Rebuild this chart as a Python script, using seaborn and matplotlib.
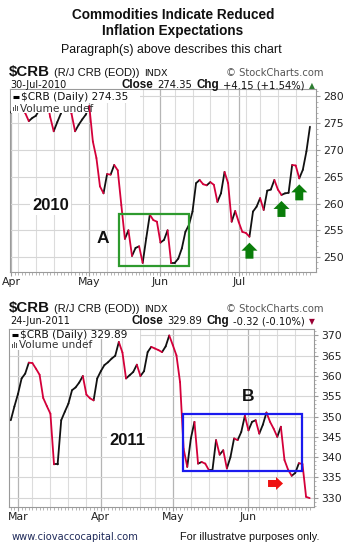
import numpy as np
import pandas as pd
import matplotlib
matplotlib.use("Agg")
import matplotlib.pyplot as plt
import seaborn as sns
from matplotlib.patches import Rectangle, Polygon
from matplotlib import transforms as mtransforms
from matplotlib.offsetbox import TextArea, HPacker, AnnotationBbox

# ---------------- data ----------------
start_2010, end_2010 = "2010-04-01", "2010-07-30"
holidays_2010 = ["2010-05-31", "2010-07-05"]
crb_2010 = [277.0, 278.6, 279.8, 278.8, 276.9, 275.4, 276.0, 276.4, 277.6, 279.2,
            279.8, 276.2, 273.5, 275.2, 276.8, 278.8, 279.6, 276.8, 273.5, 274.7,
            275.7, 276.6, 278.2, 271.6, 268.5, 263.2, 261.9, 265.5, 265.4, 267.2,
            266.2, 259.7, 253.4, 255.0, 250.2, 251.7, 252.0, 248.9, 253.5, 257.9,
            256.9, 256.6, 252.7, 253.2, 255.0, 248.9, 248.9, 249.7, 251.6, 254.7,
            256.0, 258.5, 263.8, 264.4, 263.6, 263.4, 264.0, 263.5, 260.3, 261.9,
            265.9, 263.8, 256.6, 258.6, 256.5, 254.7, 254.5, 253.8, 258.5, 259.4,
            261.0, 258.8, 262.4, 262.6, 264.4, 262.6, 261.6, 261.9, 262.0, 267.2,
            267.1, 264.7, 266.3, 269.7, 274.35]

start_2011, end_2011 = "2011-02-25", "2011-06-24"
holidays_2011 = ["2011-04-22", "2011-05-30"]
crb_2011 = [349.1, 352.5, 355.6, 359.4, 360.6, 363.3, 363.2, 361.8, 360.3, 354.6,
            352.6, 350.7, 338.2, 338.2, 349.1, 351.2, 353.2, 356.5, 357.2, 358.4,
            360.0, 355.4, 354.5, 354.0, 359.4, 361.2, 362.7, 363.4, 364.3, 365.0,
            368.4, 365.8, 359.4, 360.2, 361.0, 362.8, 360.0, 361.2, 365.9, 367.2,
            366.8, 366.4, 365.9, 367.3, 370.0, 367.6, 365.1, 358.5, 342.0, 337.6,
            344.6, 348.7, 338.4, 338.8, 338.4, 336.8, 336.8, 344.2, 340.6, 341.7,
            337.2, 340.0, 344.6, 344.2, 346.2, 350.2, 346.6, 348.7, 349.1, 345.8,
            348.0, 351.0, 348.7, 347.0, 345.0, 347.5, 339.3, 336.9, 335.4, 336.1,
            338.5, 338.3, 330.21, 329.89]

yticks_2010 = [250, 255, 260, 265, 270, 275, 280]
yticks_2011 = [330, 335, 340, 345, 350, 355, 360, 365, 370]

title_lines = ["Commodities Indicate Reduced", "Inflation Expectations"]
subtitle = "Paragraph(s) above describes this chart"
footer_left = "www.ciovaccocapital.com"
footer_right = "For illustratve purposes only."

# annotation anchors (trading-day index, value)
green_arrow_days = [67, 76, 81]
box_a = (30.3, 50.1, 248.4, 258.05)
box_b = (47.9, 81.0, 336.55, 350.7)
red_arrow_tip = (75.6, 333.5)

RED = "#d4003a"
BLACK = "#111111"

# ---------------- figure ----------------
sns.set_theme(style="white")
plt.rcParams["font.family"] = ["DejaVu Sans"]
W, H = 344, 551
fig = plt.figure(figsize=(W / 100, H / 100), dpi=100)
fig.patch.set_facecolor("white")


def trading_days(start, end, hol):
    d = pd.bdate_range(start, end)
    return d[~d.isin(pd.to_datetime(hol))]


def fy(py):
    return 1 - py / H


def draw_panel(ax, dates, values, xlim, ylim, yticks):
    n = len(values)
    xs = np.arange(n)
    rows = []
    for i in range(1, n):
        d = "up" if values[i] >= values[i - 1] else "down"
        rows.append((i, xs[i - 1], values[i - 1], d))
        rows.append((i, xs[i], values[i], d))
    df = pd.DataFrame(rows, columns=["seg", "x", "y", "dir"])
    sns.lineplot(data=df, x="x", y="y", hue="dir", units="seg", estimator=None,
                 palette={"up": BLACK, "down": RED}, legend=False, lw=1.3,
                 sort=False, ax=ax, zorder=3)
    for l in ax.lines:
        l.set_solid_capstyle("round")
        l.set_solid_joinstyle("round")
    # month & week gridlines
    months = [i for i in range(n) if (i == 0 and dates[0].day <= 3) or
              (i > 0 and dates[i].month != dates[i - 1].month)]
    weeks = [i for i in range(1, n) if dates[i].weekday() < dates[i - 1].weekday()
             and min(abs(i - m) for m in months) > 1]
    for w in weeks:
        ax.axvline(w, color="#dcdcdc", lw=0.8, zorder=1)
    for m in months:
        ax.axvline(m, color="#b5b5b5", lw=0.9, zorder=1)
    for t in yticks:
        ax.axhline(t, color="#d6d6d6", lw=0.8, zorder=1)
    ax.set_xticks(months)
    ax.set_xticklabels([dates[m].strftime("%b") for m in months])
    ax.set_xticks(xs, minor=True)
    ax.set_yticks(yticks)
    minor_y = np.arange(np.ceil(ylim[0]), np.floor(ylim[1]) + 1, 1.0)
    ax.set_yticks(minor_y, minor=True)
    ax.set_xlim(*xlim)
    ax.set_ylim(*ylim)
    ax.yaxis.tick_right()
    ax.tick_params(axis="x", which="major", length=3, width=0.8, color="#999999",
                   labelsize=7.8, labelcolor="#222222", pad=0.5, bottom=True)
    ax.tick_params(axis="x", which="minor", length=2, width=0.6, color="#aaaaaa", bottom=True)
    ax.tick_params(axis="y", which="major", length=3, width=0.8, color="#999999",
                   labelsize=7.8, labelcolor="#222222", pad=2, right=True, left=False)
    ax.tick_params(axis="y", which="minor", length=1.5, width=0.6, color="#aaaaaa",
                   right=True, left=False)
    ax.set_xlabel("")
    ax.set_ylabel("")
    for s in ax.spines.values():
        s.set_color("#9a9a9a")
        s.set_linewidth(0.8)
    ax.set_facecolor("white")


def pix_poly(ax, x, y, verts, color):
    trans = mtransforms.Affine2D() + mtransforms.ScaledTranslation(x, y, ax.transData)
    p = Polygon(verts, closed=True, transform=trans, facecolor=color,
                edgecolor="none", zorder=6)
    ax.add_artist(p)


def legend_block(ax, py_top, py_mid, py_bot, x_row1, x_row2, label, ax_box):
    l, b, w, h = ax_box
    def ax_x(px):
        return (px - l) / w
    def ax_y(py):
        return (b - py) / h
    ax.add_patch(Rectangle((ax_x(l + 1), ax_y(py_mid)), ax_x(x_row1) - ax_x(l + 1),
                           ax_y(py_top) - ax_y(py_mid), transform=ax.transAxes,
                           facecolor="white", edgecolor="none", zorder=4))
    ax.add_patch(Rectangle((ax_x(l + 1), ax_y(py_bot)), ax_x(x_row2) - ax_x(l + 1),
                           ax_y(py_mid) - ax_y(py_bot), transform=ax.transAxes,
                           facecolor="white", edgecolor="none", zorder=4))
    yr1 = ax_y((py_top + py_mid) / 2 + 0.5)
    yr2 = ax_y((py_mid + py_bot) / 2 + 0.5)
    ax.plot([ax_x(l + 3), ax_x(l + 9)], [yr1, yr1], transform=ax.transAxes,
            color="black", lw=2.2, solid_capstyle="butt", zorder=5)
    ax.text(ax_x(l + 11), yr1, label, transform=ax.transAxes, fontsize=7.6,
            color="#111111", va="center", ha="left", zorder=5)
    for k, hh in enumerate([4, 6, 5]):
        ax.add_patch(Rectangle((ax_x(l + 3 + 2 * k), ax_y(py_bot - 2.5)),
                               ax_x(l + 4.4 + 2 * k) - ax_x(l + 3 + 2 * k),
                               hh / h, transform=ax.transAxes,
                               facecolor="#555555", edgecolor="none", zorder=5))
    ax.text(ax_x(l + 10), yr2, "Volume undef", transform=ax.transAxes, fontsize=7.6,
            color="#333333", va="center", ha="left", zorder=5)


def header(py1, py2, date_str, close, chg, pct, up):
    a = TextArea("$CRB", textprops=dict(fontfamily="Liberation Sans", fontweight="bold",
                                         fontsize=10.8, color="#111111"))
    b = TextArea("(R/J CRB (EOD))", textprops=dict(fontfamily="Liberation Sans",
                                                    fontsize=8.0, color="#111111"))
    c = TextArea("INDX", textprops=dict(fontsize=6.8, color="#111111"))
    pk = HPacker(children=[a, b, c], align="baseline", pad=0, sep=3)
    fig.add_artist(AnnotationBbox(pk, (9, H - py1), xycoords="figure pixels",
                                  box_alignment=(0, 0.5), frameon=False, pad=0))
    fig.text(324 / W, fy(py1 + 1), "\u00a9 StockCharts.com", fontsize=7.2,
             color="#555555", ha="right", va="center")
    fig.text(10 / W, fy(py2), date_str, fontsize=7.0, color="#111111",
             ha="left", va="center")
    bold = dict(fontfamily="Liberation Sans", fontweight="bold", fontsize=8.4,
                color="#111111")
    reg = dict(fontsize=7.2, color="#111111")
    tri = TextArea("\u25b2" if up else "\u25bc",
                   textprops=dict(fontsize=5.5, color="#2e7d32" if up else "#990033"))
    pk2 = HPacker(children=[TextArea("Close", textprops=bold),
                            TextArea(close, textprops=reg),
                            TextArea("Chg", textprops=bold),
                            TextArea(f"{chg} ({pct})", textprops=reg), tri],
                  align="baseline", pad=0, sep=3)
    fig.add_artist(AnnotationBbox(pk2, (315, H - py2), xycoords="figure pixels",
                                  box_alignment=(1, 0.5), frameon=False, pad=0))


# titles
fig.text(0.5 + 1 / W, fy(15), title_lines[0], fontfamily="Liberation Sans",
         fontweight="bold", fontsize=9.8, ha="center", va="center", color="#111111")
fig.text(0.5 + 1 / W, fy(31), title_lines[1], fontfamily="Liberation Sans",
         fontweight="bold", fontsize=9.8, ha="center", va="center", color="#111111")
fig.text(0.5 - 1 / W, fy(50), subtitle, fontfamily="Liberation Sans",
         fontsize=8.9, ha="center", va="center", color="#111111")

# ---------------- top panel ----------------
d10 = trading_days(start_2010, end_2010, holidays_2010)
top_box = (10, 272, 306, 183)  # left px, bottom py, width, height
ax1 = fig.add_axes([10 / W, 1 - 272 / H, 306 / W, 183 / H])
draw_panel(ax1, d10, crb_2010, (-0.28, 85.7), (247.2, 281.4), yticks_2010)
header(72, 85, "30-Jul-2010", "274.35", "+4.15", "+1.54%", True)
legend_block(ax1, 90, 103, 113, 140, 88, "$CRB (Daily) 274.35", top_box)

ax1.add_patch(Rectangle((box_a[0], box_a[2]), box_a[1] - box_a[0], box_a[3] - box_a[2],
                        fill=False, edgecolor="#2e9a2e", lw=1.6, zorder=5))
ax1.text(0.132, 0.366, "2010", transform=ax1.transAxes, fontfamily="Liberation Sans",
         fontweight="bold", fontsize=12, ha="center", va="center", color="#111111",
         zorder=5, bbox=dict(facecolor="white", edgecolor="none", pad=1.5))
ax1.text(0.302, 0.183, "A", transform=ax1.transAxes, fontfamily="Liberation Sans",
         fontweight="bold", fontsize=12.5, ha="center", va="center", color="#111111",
         zorder=5)
up_arrow = [(0, -6), (8, -14), (4, -14), (4, -22), (-4, -22), (-4, -14), (-8, -14)]
for d in green_arrow_days:
    pix_poly(ax1, d, crb_2010[d], up_arrow, "#0a7d0a")

# ---------------- bottom panel ----------------
d11 = trading_days(start_2011, end_2011, holidays_2011)
bot_box = (9, 507, 305, 178)
ax2 = fig.add_axes([9 / W, 1 - 507 / H, 305 / W, 178 / H])
draw_panel(ax2, d11, crb_2011, (-0.5, 84.2), (327.7, 371.6), yticks_2011)
header(308, 321, "24-Jun-2011", "329.89", "-0.32", "-0.10%", False)
legend_block(ax2, 330, 339, 350, 140, 86, "$CRB (Daily) 329.89", bot_box)

ax2.add_patch(Rectangle((box_b[0], box_b[2]), box_b[1] - box_b[0], box_b[3] - box_b[2],
                        fill=False, edgecolor="#1a1aee", lw=1.6, zorder=5))
ax2.text(0.387, 0.376, "2011", transform=ax2.transAxes, fontfamily="Liberation Sans",
         fontweight="bold", fontsize=12, ha="center", va="center", color="#111111",
         zorder=5, bbox=dict(facecolor="white", edgecolor="none", pad=1.5))
ax2.text(0.785, 0.621, "B", transform=ax2.transAxes, fontfamily="Liberation Sans",
         fontweight="bold", fontsize=12.5, ha="center", va="center", color="#111111",
         zorder=5)
right_arrow = [(0, 0), (-7, 6.5), (-7, 3.5), (-15, 3.5), (-15, -3.5), (-7, -3.5), (-7, -6.5)]
pix_poly(ax2, red_arrow_tip[0], red_arrow_tip[1], right_arrow, "#ee1111")

# footer
fig.text(12 / W, fy(537), footer_left, fontsize=7.1, color="#1f2a5a",
         ha="left", va="center")
fig.text(320 / W, fy(537), footer_right, fontfamily="Liberation Sans", fontsize=7.8,
         color="#111111", ha="right", va="center")

fig.savefig("out.png", dpi=100, facecolor="white")
